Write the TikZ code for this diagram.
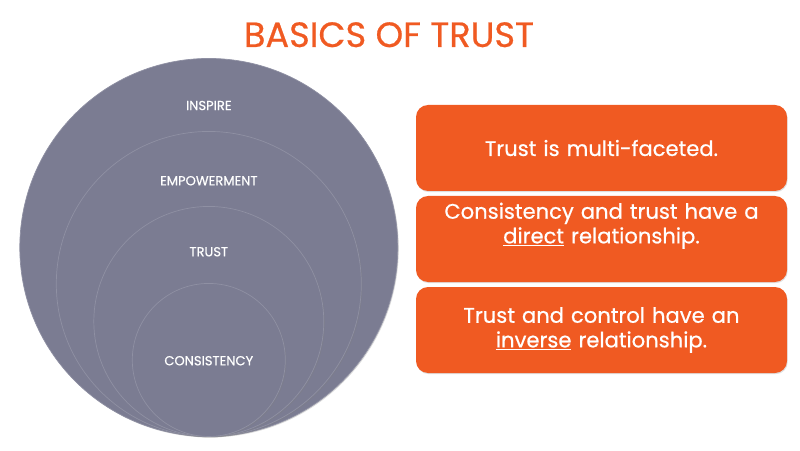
\documentclass[tikz,border=0pt]{standalone}
\usepackage{fontspec}
\setmainfont{Poppins}
\newfontfamily\factfont{Poppins}[FakeBold=0.6]
\usetikzlibrary{positioning,shadows}
\definecolor{ringgray}{RGB}{123,124,146}
\definecolor{ringedge}{RGB}{143,144,163}
\definecolor{trustorange}{RGB}{240,90,34}

\begin{document}
\begin{tikzpicture}[node distance=2.275cm,
  ring node/.style={circle,fill=ringgray,draw=ringedge,line width=0.5pt,inner sep=0pt,anchor=south,
    drop shadow={shadow xshift=0.7pt,shadow yshift=-0.7pt,opacity=0.3}},
  ring label/.style={anchor=base,text=white,font=\factfont\fontsize{9.3}{11}\selectfont},
  fact node/.style={rectangle,rounded corners=0.3cm,fill=trustorange,text=white,
    minimum width=9.275cm,minimum height=2.15cm,text width=8.9cm,align=center,
    font=\factfont\fontsize{15}{17.5}\selectfont,
    drop shadow={shadow xshift=0.5pt,shadow yshift=-0.8pt,opacity=0.25}}]

  \useasboundingbox (0,0) rectangle (20,11.25);
  \node[anchor=base,text=trustorange,font=\factfont\fontsize{25}{30}\selectfont] (0) at (9.725,10.075) {BASICS OF TRUST};

  % nested rings, all touching at the bottom
  \coordinate (base) at (5.22,0.33);
  \node[ring node,minimum size=9.45cm] (1) at (base) {};
  \node[ring node,minimum size=7.625cm] (2) at (base) {};
  \node[ring node,minimum size=5.75cm] (3) at (base) {};
  \node[ring node,minimum size=3.825cm] (4) at (base) {};
  \node[ring label] (5) at ([yshift=-1.3cm]1.north) {INSPIRE};
  \node[ring label] (6) at ([yshift=-1.355cm]2.north) {EMPOWERMENT};
  \node[ring label] (7) at ([yshift=-1.255cm]3.north) {TRUST};
  \node[ring label] (8) at ([yshift=-2.055cm]4.north) {CONSISTENCY};

  \node[fact node] (9) at (15.0375,7.55) {Trust is multi-faceted.};
  \node[fact node,below of=9] (10) {Consistency and trust have a\\\underline{direct} relationship.\\\strut};
  \node[fact node,below of=10] (11) {Trust and control have an\\\underline{inverse} relationship.};
\end{tikzpicture}
\end{document}
